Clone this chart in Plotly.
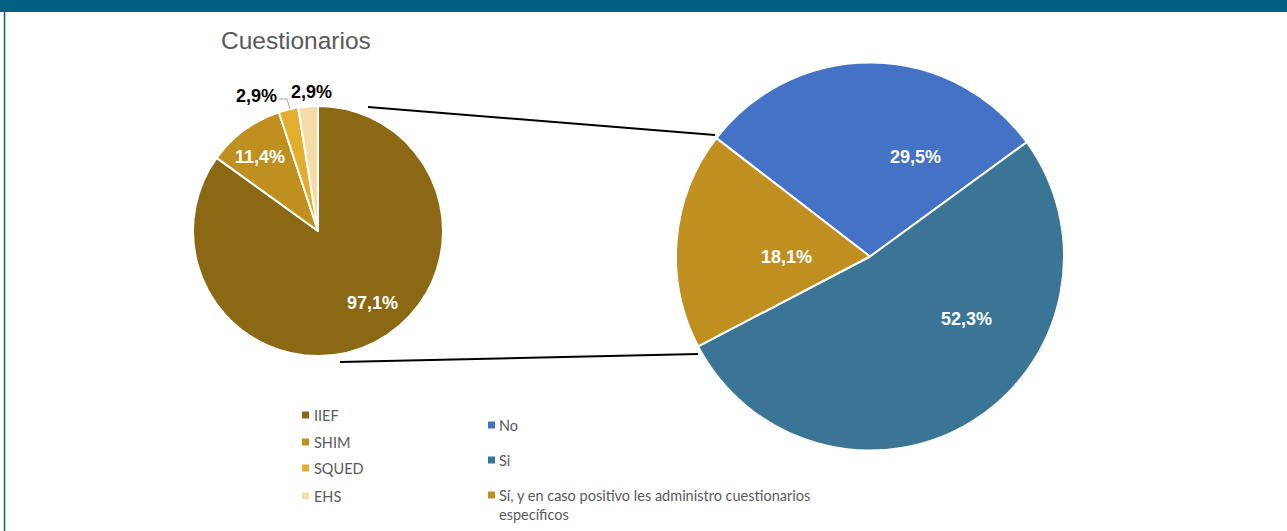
import plotly.graph_objects as go

W, H = 1287, 531

# ---- data ----
left_labels = ["IIEF", "SHIM", "SQUED", "EHS"]
left_values = [97.1, 11.4, 2.9, 2.9]
left_text = ["97,1%", "11,4%", "2,9%", "2,9%"]
left_colors = ["#8B6914", "#BF8F20", "#E2AF2C", "#F3DCA8"]

right_labels = ["No", "Si", "Sí, y en caso positivo les administro cuestionarios<br>específicos"]
right_values = [29.5, 52.3, 18.1]
right_text = ["29,5%", "52,3%", "18,1%"]
right_colors = ["#4472C4", "#3A7596", "#BF9020"]

title_text = "Cuestionarios"

# ---- layout helpers (pixel positions of data labels, not data) ----
left_label_pos = [(373, 303), (260, 157), (256, 96), (311, 92)]
left_label_color = ["white", "white", "black", "black"]
right_label_pos = [(915, 157), (967, 319), (786, 257)]


def px(x):
    return x / W


def py(y):
    return 1 - y / H


fig = go.Figure()

fig.add_trace(go.Pie(
    labels=left_labels, values=left_values, text=left_text,
    textinfo="none", sort=False, direction="clockwise", rotation=0,
    marker=dict(colors=left_colors, line=dict(color="white", width=2)),
    domain=dict(x=[px(193), px(443)], y=[py(356), py(106)]),
    showlegend=False, hoverinfo="label+text",
))

fig.add_trace(go.Pie(
    labels=right_labels, values=right_values, text=right_text,
    textinfo="none", sort=False, direction="clockwise", rotation=-52.4,
    marker=dict(colors=right_colors, line=dict(color="white", width=2)),
    domain=dict(x=[px(676), px(1064)], y=[py(451), py(62)]),
    showlegend=False, hoverinfo="label+text",
))

shapes = []
# top banner and left frame line
shapes.append(dict(type="rect", xref="paper", yref="paper", x0=0, x1=1,
                   y0=py(12), y1=1, fillcolor="#00607F", line=dict(width=0), layer="below"))
shapes.append(dict(type="line", xref="paper", yref="paper", x0=px(4.5), x1=px(4.5),
                   y0=0, y1=py(12), line=dict(color="#00607F", width=1.5)))
# connector lines between the two pies
shapes.append(dict(type="line", xref="paper", yref="paper", x0=px(368), y0=py(107),
                   x1=px(715), y1=py(135), line=dict(color="black", width=2)))
shapes.append(dict(type="line", xref="paper", yref="paper", x0=px(340), y0=py(362),
                   x1=px(698), y1=py(354), line=dict(color="black", width=2)))
# small leader line for the SQUED label
shapes.append(dict(type="path", xref="paper", yref="paper",
                   path=f"M {px(279)} {py(99)} L {px(287)} {py(99)} L {px(290)} {py(109)}",
                   line=dict(color="#A6A6A6", width=1)))

annotations = [dict(text=title_text, xref="paper", yref="paper", x=px(219), y=py(40),
                    xanchor="left", yanchor="middle", showarrow=False,
                    font=dict(family="Liberation Sans", size=24.5, color="#595959"))]

label_font = dict(family="Liberation Sans", size=18, weight="bold")
for t, (xx, yy), c in zip(left_text, left_label_pos, left_label_color):
    annotations.append(dict(text=t, xref="paper", yref="paper", x=px(xx), y=py(yy),
                            xanchor="center", yanchor="middle", showarrow=False,
                            font=dict(label_font, color=c)))
for t, (xx, yy) in zip(right_text, right_label_pos):
    annotations.append(dict(text=t, xref="paper", yref="paper", x=px(xx), y=py(yy),
                            xanchor="center", yanchor="middle", showarrow=False,
                            font=dict(label_font, color="white")))

legend_font = dict(family="Lato", size=14.5, color="#595959")

# legend for left pie
left_rows = [415, 442, 468, 496]
for lab, col, yy in zip(left_labels, left_colors, left_rows):
    shapes.append(dict(type="rect", xref="paper", yref="paper", x0=px(302), x1=px(309),
                       y0=py(yy + 3.5), y1=py(yy - 3.5), fillcolor=col, line=dict(width=0)))
    annotations.append(dict(text=lab, xref="paper", yref="paper", x=px(312), y=py(yy),
                            xanchor="left", yanchor="middle", showarrow=False, align="left",
                            font=legend_font))

# legend for right pie
right_rows = [425, 460, 495]
for lab, col, yy in zip(right_labels, right_colors, right_rows):
    shapes.append(dict(type="rect", xref="paper", yref="paper", x0=px(488), x1=px(495),
                       y0=py(yy + 3.5), y1=py(yy - 3.5), fillcolor=col, line=dict(width=0)))
    annotations.append(dict(text=lab, xref="paper", yref="paper", x=px(497), y=py(yy - 10.5),
                            xanchor="left", yanchor="top", showarrow=False, align="left",
                            font=legend_font))

fig.update_layout(
    width=W, height=H,
    margin=dict(l=0, r=0, t=0, b=0),
    paper_bgcolor="white", plot_bgcolor="white",
    shapes=shapes, annotations=annotations,
)

fig.write_html("out.html")
